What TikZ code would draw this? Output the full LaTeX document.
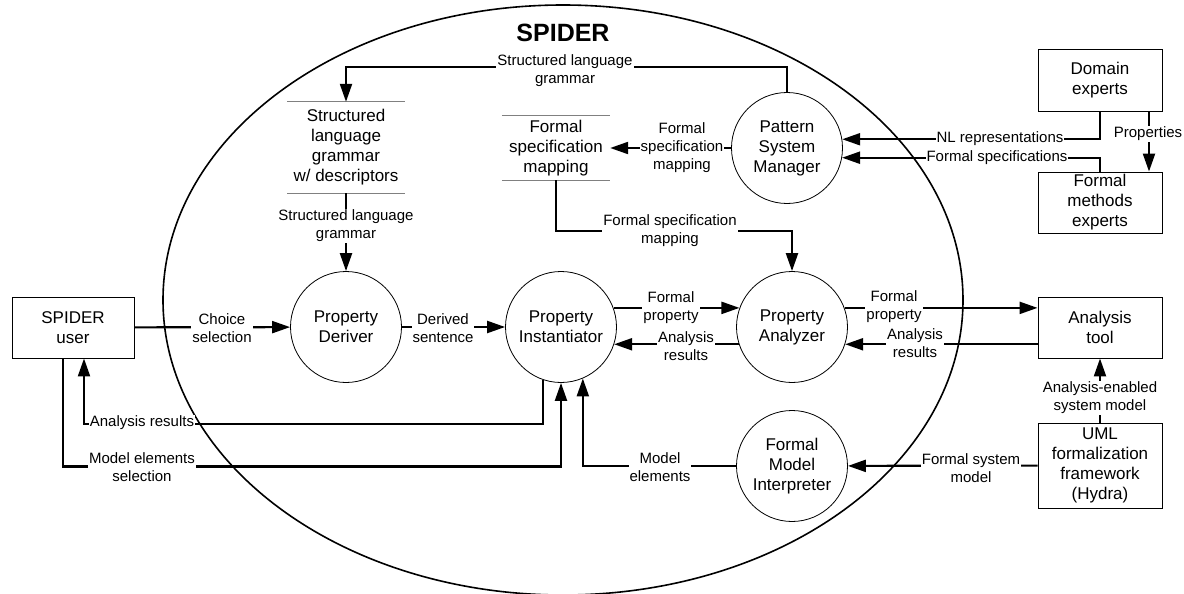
\documentclass[tikz,border=0pt]{standalone}
\usepackage{fontspec}
\setmainfont{Liberation Sans}
\usepackage{tikz}
\usetikzlibrary{arrows.meta,positioning,calc}
\definecolor{ink} {HTML}{000000}
\definecolor{rule}{HTML}{808080}
\newcommand{\procfont}{\fontsize{17}{20}\selectfont}
\newcommand{\flowfont}{\fontsize{15}{18}\selectfont}

\begin{document}
\begin{tikzpicture}[x=1pt,y=1pt,
  proc/.style={circle,draw=ink,line width=0.8pt,inner sep=0pt,minimum size=111pt,align=center,font=\procfont},
  ext/.style={rectangle,draw=ink,line width=0.9pt,inner sep=0pt,minimum width=124pt,align=center,font=\procfont},
  store/.style={inner sep=0pt,align=center,font=\procfont},
  flow/.style={draw=ink,line width=2.2pt,-{Triangle[length=18pt,width=12pt]}},
  lbl/.style={fill=white,inner sep=1pt,align=center,font=\flowfont}]
\useasboundingbox (0,0) rectangle (1184,-594);
\draw[ink,line width=1.6pt] (563,-300) ellipse [x radius=400, y radius=295];
\node[font=\fontsize{25}{30}\selectfont\bfseries] (ttl) at (563,-33) {SPIDER};
\node[proc] (drv) at (346,-327) {Property\\Deriver};
\node[proc] (ins) at (561,-327) {Property\\Instantiator};
\node[proc] (anl) at (792,-327) {Property\\Analyzer};
\node[proc] (psm) at (787,-148) {Pattern\\System\\Manager};
\node[proc] (fmi) at (792,-466) {Formal\\Model\\Interpreter};
\node[ext,minimum width=122pt,minimum height=61pt] (usr) at (73,-327.5) {SPIDER\\user};
\node[ext,minimum height=61pt] (tool) at (1100,-327.5) {Analysis\\tool};
\node[ext,minimum height=62pt] (dom) at (1100,-80) {Domain\\experts};
\node[ext,minimum height=61pt] (fme) at (1100,-202.5) {Formal\\methods\\experts};
\node[ext,minimum height=85pt] (uml) at (1100,-465.5) {UML\\formalization\\framework\\(Hydra)};
\node[store,minimum width=117pt,minimum height=91pt] (ds1) at (346,-147.5) {Structured\\language\\grammar\\w/ descriptors};
\node[store,minimum width=108pt,minimum height=64pt] (ds2) at (556,-148) {Formal\\specification\\mapping};
\draw[rule,line width=0.9pt] (ds1.north west) -- (ds1.north east) (ds1.south west) -- (ds1.south east);
\draw[rule,line width=0.9pt] (ds2.north west) -- (ds2.north east) (ds2.south west) -- (ds2.south east);
\draw[flow] (psm.north) -- ++(0,25) -| (ds1.north);
\draw[flow] (ds1.south) -- (drv.north);
\draw[flow] (usr) -- (drv);
\draw[flow] (drv) -- (ins);
\draw[flow] (ins.20) -- (anl.160);
\draw[flow] (anl.198) -- (ins.-18);
\draw[flow] (anl.20) -- (anl.20 -| tool.west);
\draw[flow] (tool.west |- anl.-18) -- (anl.-18);
\draw[flow] (ds2.south) -- ++(0,-51) -| (anl.north);
\draw[flow] (psm) -- (ds2);
\draw[flow] (dom.south) |- (psm.9);
\draw[flow] (fme.north) |- (psm.-10);
\draw[flow] ([xshift=49pt]dom.south) -- ([xshift=49pt]fme.north);
\draw[flow] (uml) -- (tool);
\draw[flow] (uml) -- (fmi);
\draw[flow] (fmi.west) -| (ins.-67);
\draw[flow] ([xshift=-10pt]usr.south) -- ++(0,-108) -| (ins.south);
\draw[flow] (ins.-109) -- ++(0,-44.5) -| ([xshift=11pt]usr.south);
\node[lbl] (l-top) at (565,-71) {Structured language\\grammar};
\node[lbl] (l-ds1) at (346,-226) {Structured language\\grammar};
\node[lbl] (l-ds2) at (682,-148) {Formal\\specification\\mapping};
\node[lbl] (l-map) at (670,-231) {Formal specification\\mapping};
\node[lbl] (l-nl) at (1000,-139) {NL representations};
\node[lbl] (l-fs) at (997,-158) {Formal specifications};
\node[lbl] (l-prp) at (1148,-134) {Properties};
\node[lbl] (l-cho) at (222,-328) {Choice\\selection};
\node[lbl] (l-der) at (443,-328) {Derived\\sentence};
\node[lbl] (l-fp1) at (671,-307.5) {Formal\\property};
\node[lbl] (l-ar1) at (686,-346) {Analysis\\results};
\node[lbl] (l-fp2) at (894,-307) {Formal\\property};
\node[lbl] (l-ar2) at (915,-343.5) {Analysis\\results};
\node[lbl] (l-aes) at (1100,-398) {Analysis-enabled\\system model};
\node[lbl] (l-fsm) at (971,-468.5) {Formal system\\model};
\node[lbl] (l-me) at (660,-467) {Model\\elements};
\node[lbl] (l-mes) at (142,-467) {Model elements\\selection};
\node[lbl] (l-ar3) at (142,-423) {Analysis results};
\end{tikzpicture}
\end{document}
